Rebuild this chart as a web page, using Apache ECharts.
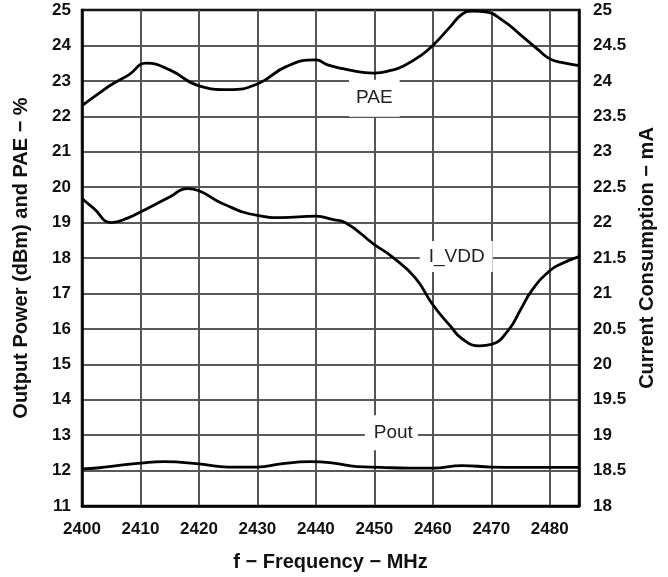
<!DOCTYPE html>
<html>
<head>
<meta charset="utf-8">
<script src="https://cdn.jsdelivr.net/npm/echarts@6/dist/echarts.min.js"></script>
<style>
  html, body { margin: 0; padding: 0; background: #fff; }
  #chart { width: 668px; height: 577px; }
</style>
</head>
<body>
<div id="chart"></div>
<script>
// PAE (%), left axis
const paeFreq = [2400, 2403, 2405, 2408, 2411, 2415, 2420, 2425, 2430, 2435, 2440, 2442, 2445, 2448, 2450, 2453, 2455, 2458, 2460, 2463, 2465, 2467, 2469, 2472, 2475, 2478, 2480, 2482, 2485];
const paeVal = [22.30, 22.66, 22.89, 23.17, 23.50, 23.31, 22.86, 22.75, 22.91, 23.41, 23.59, 23.45, 23.33, 23.24, 23.22, 23.30, 23.42, 23.72, 24.00, 24.53, 24.88, 24.97, 24.95, 24.70, 24.30, 23.88, 23.62, 23.52, 23.43];

// I_VDD (mA), right axis
const iddFreq = [2400, 2402, 2405, 2408, 2410, 2415, 2418, 2420, 2424, 2430, 2434, 2440, 2443, 2445, 2450, 2453, 2457, 2460, 2463, 2465, 2468, 2470, 2473, 2475, 2477, 2480, 2482, 2485];
const iddVal = [22.34, 22.20, 22.00, 22.07, 22.15, 22.36, 22.48, 22.45, 22.27, 22.10, 22.07, 22.09, 22.04, 22.00, 21.69, 21.52, 21.22, 20.84, 20.54, 20.36, 20.26, 20.28, 20.49, 20.77, 21.05, 21.32, 21.42, 21.52];

// Pout (dBm), left axis
const poutFreq = [2400, 2403, 2406, 2410, 2414, 2420, 2425, 2430, 2434, 2439, 2443, 2447, 2451, 2456, 2460, 2465, 2470, 2475, 2485];
const poutVal = [12.05, 12.08, 12.14, 12.21, 12.25, 12.19, 12.10, 12.10, 12.19, 12.25, 12.21, 12.11, 12.09, 12.07, 12.07, 12.14, 12.10, 12.09, 12.09];

// curve labels: [text, freq, value]
const curveLabels = {
  pae: ['PAE', 2450, 22.51],
  idd: ['I_VDD', 2464, 21.52],
  pout: ['Pout', 2452.9, 13.07]
};

const FONT = "'Liberation Sans', Arial, sans-serif";

function pairs(xs, ys) {
  return xs.map((x, i) => [x, ys[i]]);
}

function labelPoint(lbl, pad) {
  return {
    symbol: 'circle',
    symbolSize: 0,
    silent: true,
    label: {
      show: true,
      position: 'inside',
      formatter: lbl[0],
      color: '#222',
      fontFamily: FONT,
      fontSize: 19,
      backgroundColor: '#fff',
      padding: pad
    },
    data: [{ coord: [lbl[1], lbl[2]] }]
  };
}

const chart = echarts.init(document.getElementById('chart'));

const tickLabel = {
  color: '#111',
  fontFamily: FONT,
  fontWeight: 'bold',
  fontSize: 17
};

const nameStyle = {
  color: '#111',
  fontFamily: FONT,
  fontWeight: 'bold',
  fontSize: 20
};

chart.setOption({
  backgroundColor: '#fff',
  animation: false,
  grid: {
    left: 82, right: 89, top: 10, bottom: 69,
    show: true, borderColor: '#000', borderWidth: 2.5
  },
  xAxis: {
    type: 'value',
    min: 2400, max: 2485, interval: 10,
    name: 'f − Frequency − MHz',
    nameLocation: 'middle',
    nameGap: 46,
    nameTextStyle: nameStyle,
    axisLine: { show: true, lineStyle: { color: '#000', width: 2.5 } },
    axisTick: { show: false },
    axisLabel: Object.assign({ margin: 15, showMaxLabel: false, formatter: v => String(v) }, tickLabel),
    splitLine: { show: true, lineStyle: { color: '#555', width: 2 } }
  },
  yAxis: [{
    type: 'value',
    min: 11, max: 25, interval: 1,
    name: 'Output Power (dBm) and PAE − %',
    nameLocation: 'middle',
    nameGap: 51,
    nameTextStyle: nameStyle,
    axisLine: { show: true, lineStyle: { color: '#000', width: 2.5 } },
    axisTick: { show: false },
    axisLabel: Object.assign({ margin: 11 }, tickLabel),
    splitLine: { show: true, lineStyle: { color: '#222', width: 1.5 } }
  }, {
    type: 'value',
    position: 'right',
    min: 18, max: 25, interval: 0.5,
    name: 'Current Consumption − mA',
    nameLocation: 'middle',
    nameGap: 57,
    nameTextStyle: nameStyle,
    axisLine: { show: true, lineStyle: { color: '#000', width: 2.5 } },
    axisTick: { show: false },
    axisLabel: Object.assign({ margin: 14 }, tickLabel),
    splitLine: { show: false }
  }],
  series: [{
    name: 'PAE',
    type: 'line',
    yAxisIndex: 0,
    smooth: 0.5,
    showSymbol: false,
    lineStyle: { color: '#000', width: 2.8 },
    data: pairs(paeFreq, paeVal),
    markPoint: labelPoint(curveLabels.pae, [14, 7, 4, 7])
  }, {
    name: 'I_VDD',
    type: 'line',
    yAxisIndex: 1,
    smooth: 0.5,
    showSymbol: false,
    lineStyle: { color: '#000', width: 2.8 },
    data: pairs(iddFreq, iddVal),
    markPoint: labelPoint(curveLabels.idd, [9, 8, 3, 9])
  }, {
    name: 'Pout',
    type: 'line',
    yAxisIndex: 0,
    smooth: 0.5,
    showSymbol: false,
    lineStyle: { color: '#000', width: 2.8 },
    data: pairs(poutFreq, poutVal),
    markPoint: labelPoint(curveLabels.pout, [11, 5, 5, 9])
  }]
});
</script>
</body>
</html>
